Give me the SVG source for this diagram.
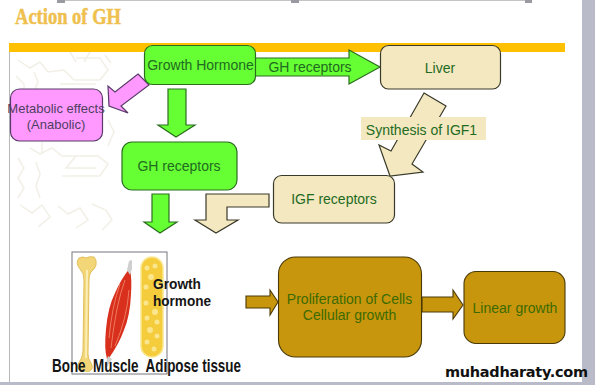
<svg xmlns="http://www.w3.org/2000/svg" width="595" height="385" viewBox="0 0 595 385">
  <style>
    .lbl { font-family: "Liberation Sans", Arial, sans-serif; font-size: 14px; fill: #1f6b1f; text-anchor: middle; }
    .green { fill: #66ff33; stroke: #2b6e1e; stroke-width: 1.2; }
    .cream { fill: #f3e8c0; stroke: #3a3a2a; stroke-width: 1.2; }
    .gold { fill: #c8960c; stroke: #4a3a08; stroke-width: 1.1; }
    .pink { fill: #ff99ff; stroke: #5a3a6a; stroke-width: 1.2; }
    .blk { font-family: "Liberation Sans", Arial, sans-serif; font-weight: bold; fill: #151515; font-size: 18px; }
    .faint { fill: none; stroke: #f1efe6; stroke-width: 1.5; }
    .chrome { fill: #b9bcc8; }
  </style>

  <rect width="595" height="385" fill="#ffffff"/>

  <!-- slide frame -->
  <g id="frame">
    <rect x="582" y="0" width="13" height="385" class="chrome"/>
    <rect x="0" y="382" width="595" height="3" class="chrome"/>
    <rect x="65" y="0" width="226" height="1" fill="#c4c4c4"/>
    <rect x="299" y="0" width="226" height="1" fill="#c4c4c4"/>
    <rect x="57" y="0" width="8" height="3" fill="#9a9aa2"/>
    <rect x="291" y="0" width="8" height="3" fill="#9a9aa2"/>
    <rect x="525" y="0" width="7" height="3" fill="#9a9aa2"/>
    <rect x="9" y="43" width="1" height="339" fill="#b8b8b8"/>
  </g>

  <!-- faint molecular backdrop -->
  <g id="backdrop" class="faint">
    <path d="M18 60l12 8 10-6M40 62l8 10 16-2 10 10h26l8-10-8-12h-24M70 52l6 10M90 52l-6 10"/>
    <path d="M16 76l8 8v14M34 72l4 10-4 10M105 55l6 8M60 84h36"/>
    <path d="M30 148l10 6 12-6 10 8h36l10 8-8 12H62M42 142v12M76 156l-10 12h30"/>
    <path d="M18 158l6 10-6 10 6 10-6 10M36 162l4 12-4 12 4 12M108 120l6 12-6 14"/>
    <path d="M20 205l12 8 10-8 8 12-12 10M58 206l10 8 12-6 8 12-12 8M92 204l14 6 6 10-10 10"/>
  </g>

  <rect id="banner" x="9" y="43" width="556" height="9" fill="#ffc000"/>

  <text id="title" x="15" y="24" font-family="Liberation Serif, serif" font-size="23" font-weight="bold" fill="#efc04e" stroke="#efc04e" stroke-width="0.5" textLength="106" lengthAdjust="spacingAndGlyphs">Action of GH</text>

  <g id="connectors">
    <polygon class="green" points="255,58 349,58 349,50 380,67 349,84 349,76 255,76"/>
    <polygon class="pink" points="138,74 149,85 121,106 128,113 109,106 108,86 115,92"/>
    <polygon class="green" points="168,89 186,89 186,125 195,125 176,137 158,125 168,125"/>
    <polygon class="green" points="152,194 169,194 169,222 177,222 160,233 144,222 152,222"/>
    <polygon class="cream" points="269,194 206,194 206,220 195,220 216,233 238,220 227,220 227,207 269,207"/>
    <polygon class="cream" points="424,93 446,106 412,164 423,172 390,176 379,145 391,151"/>
    <polygon class="gold" points="246,296 270,296 270,290 278,302 270,315 270,308 246,308"/>
    <polygon class="gold" points="422,297 453,297 453,290 463,305 453,319 453,312 422,312"/>
  </g>

  <g id="growth-hormone">
    <rect class="green" x="144.5" y="45.5" width="111" height="39" rx="8"/>
    <text class="lbl" x="200.5" y="70">Growth Hormone</text>
  </g>
  <text id="gh-receptors-arrow-label" class="lbl" x="310" y="72">GH receptors</text>

  <g id="liver">
    <rect class="cream" x="380.5" y="45.5" width="120" height="43.5" rx="8"/>
    <text class="lbl" x="440" y="73">Liver</text>
  </g>

  <g id="metabolic-effects">
    <rect class="pink" x="10.5" y="89" width="92" height="52" rx="9"/>
    <text class="lbl" x="56" y="113" style="fill:#4f3f5f;font-size:13px">Metabolic effects</text>
    <text class="lbl" x="56" y="129" style="fill:#4f3f5f;font-size:13px">(Anabolic)</text>
  </g>

  <g id="gh-receptors">
    <rect class="green" x="122" y="142" width="115" height="48" rx="10"/>
    <text class="lbl" x="179" y="171">GH receptors</text>
  </g>

  <g id="synthesis-igf1">
    <rect x="361" y="117" width="125" height="23" fill="#f3e8c0"/>
    <text class="lbl" x="421.5" y="135">Synthesis of IGF1</text>
  </g>

  <g id="igf-receptors">
    <rect class="cream" x="273.5" y="175.5" width="121" height="47.5" rx="8"/>
    <text class="lbl" x="334" y="204">IGF receptors</text>
  </g>

  <g id="tissues">
    <rect x="72" y="252" width="95" height="122" fill="#ffffff" stroke="#77777f" stroke-width="1"/>
    <!-- bone -->
    <path d="M79 258q4-2 7 0 3-2 8-1 3 3 2 8-1 4-5 7-2 3-2 8l-1 74q0 5 3 9 3 5-1 8-3 1-5 0-4 1-7-2-1-5 3-10 2-4 2-9l1-70q0-7-4-11-5-6-1-11z" fill="#f2d678" stroke="#e2c05e" stroke-width="1"/>
    <path d="M87 270l-1 88" stroke="#fbeeb4" stroke-width="2" fill="none"/>
    <!-- muscle -->
    <path d="M130 268q2 12 1 26-1 22-7 36-5 14-15 28l-2 1q-3-10-1-30 2-22 9-36 6-14 15-25z" fill="#d8301c"/>
    <path d="M127 270l2-9 3-1 0 9-2 6zM108 356l-3 10 2 1 5-8z" fill="#cfcfcf"/>
    <path d="M125 280q-9 24-14 68M120 284q-8 22-11 54M129 290q-2 28-14 56" stroke="#ee7a60" stroke-width="1" fill="none"/>
    <!-- adipose -->
    <rect x="141" y="257" width="22" height="100" rx="11" fill="#f4cc3c" stroke="#f9e690" stroke-width="1.5"/>
    <g fill="#fbe68e">
      <circle cx="147" cy="268" r="2.5"/><circle cx="155" cy="266" r="2.5"/><circle cx="151" cy="277" r="3"/>
      <circle cx="146" cy="287" r="2.5"/><circle cx="157" cy="286" r="2.5"/><circle cx="146" cy="303" r="2.5"/>
      <circle cx="155" cy="312" r="3"/><circle cx="147" cy="318" r="2.5"/><circle cx="157" cy="322" r="2.5"/>
      <circle cx="150" cy="330" r="3"/><circle cx="157" cy="336" r="2.5"/><circle cx="147" cy="342" r="2.5"/>
      <circle cx="154" cy="349" r="2.5"/>
    </g>
    <text class="blk" x="153" y="289" style="font-size:15px" textLength="48" lengthAdjust="spacingAndGlyphs">Growth</text>
    <text class="blk" x="153" y="306" style="font-size:15px" textLength="58" lengthAdjust="spacingAndGlyphs">hormone</text>
    <text class="blk" x="52" y="372" textLength="189" lengthAdjust="spacingAndGlyphs" xml:space="preserve">Bone  Muscle  Adipose tissue</text>
  </g>

  <g id="proliferation">
    <rect class="gold" x="278.5" y="257" width="143" height="100" rx="17"/>
    <text class="lbl" x="349.5" y="304" style="fill:#3c6a00">Proliferation of Cells</text>
    <text class="lbl" x="349.5" y="320" style="fill:#3c6a00">Cellular growth</text>
  </g>

  <g id="linear-growth">
    <rect class="gold" x="464" y="271.5" width="101" height="72" rx="12"/>
    <text class="lbl" x="515" y="313" style="fill:#3c6a00">Linear growth</text>
  </g>

  <text id="site-mark" x="445" y="377" font-family="DejaVu Sans, sans-serif" font-size="14.5" font-weight="bold" fill="#111111" textLength="143" lengthAdjust="spacing">muhadharaty.com</text>
</svg>
